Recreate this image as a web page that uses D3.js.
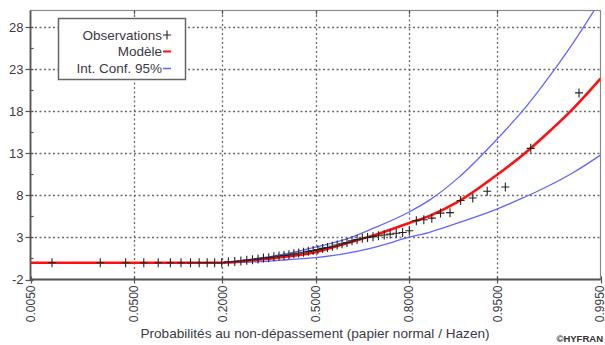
<!DOCTYPE html>
<html><head><meta charset="utf-8">
<script src="https://cdn.jsdelivr.net/npm/d3@7"></script>
<style>body{margin:0;background:#fff;} svg{display:block;font-family:Arial,"Liberation Sans",sans-serif;}</style>
</head><body><svg id="c" width="605" height="345"></svg>
<script>
// ---- data ----
const xTicks = [0.005, 0.05, 0.2, 0.5, 0.8, 0.95, 0.995];
const xTickLabels = ["0.0050", "0.0500", "0.2000", "0.5000", "0.8000", "0.9500", "0.9950"];
const yTicks = [-2, 3, 8, 13, 18, 23, 28];
const yMinorTicks = [0.5, 5.5, 10.5, 15.5, 20.5, 25.5];
// observations sorted, plotted at Hazen positions (i-0.5)/n
const observations = [
  0, 0, 0, 0, 0, 0, 0, 0, 0, 0, 0, 0,
  0.1, 0.15, 0.2, 0.3, 0.35, 0.45, 0.55, 0.6, 0.7, 0.8, 0.85, 0.95, 1.05, 1.15, 1.25, 1.35, 1.45,
  1.55, 1.7, 1.8, 1.95, 2.1, 2.25, 2.4, 2.6, 2.75, 2.9, 3.0, 3.1, 3.2, 3.3, 3.4, 3.5, 3.6, 3.8,
  5.0, 5.1, 5.3, 5.9, 5.95, 7.4, 7.7, 8.5, 9.0, 13.6, 20.2
];
const modelProbs  = [0.005, 0.05, 0.1, 0.2, 0.3, 0.4, 0.5, 0.6, 0.7, 0.8, 0.85, 0.9, 0.95, 0.97, 0.98, 0.99, 0.995];
const modelValues = [0, 0, 0, 0, 0.35, 0.75, 1.25, 2.2, 3.25, 4.7, 5.6, 7.2, 10.5, 12.9, 14.9, 18.3, 21.9];
const ciProbs     = [0.2, 0.3, 0.4, 0.5, 0.6, 0.7, 0.8, 0.85, 0.9, 0.95, 0.97, 0.98, 0.99, 0.995];
const upperValues = [0, 0.5, 1.1, 1.85, 2.7, 4.1, 6.0, 7.5, 10.0, 14.75, 18.2, 21.1, 26.1, 31.2];
const lowerValues = [0, 0.1, 0.35, 0.6, 1.05, 1.8, 3.0, 3.65, 4.7, 6.4, 7.75, 8.8, 10.7, 12.8];
const legendItems = ["Observations", "Modèle", "Int. Conf. 95%"];
const xTitle = "Probabilités au non-dépassement (papier normal / Hazen)";

// inverse standard normal CDF (Acklam)
function probit(p) {
  const a = [-3.969683028665376e+01, 2.209460984245205e+02, -2.759285104469687e+02, 1.383577518672690e+02, -3.066479806614716e+01, 2.506628277459239e+00];
  const b = [-5.447609879822406e+01, 1.615858368580409e+02, -1.556989798598866e+02, 6.680131188771972e+01, -1.328068155288572e+01];
  const c = [-7.784894002430293e-03, -3.223964580411365e-01, -2.400758277161838e+00, -2.549732539343734e+00, 4.374664141464968e+00, 2.938163982698783e+00];
  const d = [7.784695709041462e-03, 3.224671290700398e-01, 2.445134137142996e+00, 3.754408661907416e+00];
  const pl = 0.02425, ph = 1 - pl;
  let q, r;
  if (p < pl) { q = Math.sqrt(-2 * Math.log(p)); return (((((c[0]*q+c[1])*q+c[2])*q+c[3])*q+c[4])*q+c[5]) / ((((d[0]*q+d[1])*q+d[2])*q+d[3])*q+1); }
  if (p <= ph) { q = p - 0.5; r = q*q; return (((((a[0]*r+a[1])*r+a[2])*r+a[3])*r+a[4])*r+a[5])*q / (((((b[0]*r+b[1])*r+b[2])*r+b[3])*r+b[4])*r+1); }
  q = Math.sqrt(-2 * Math.log(1 - p)); return -(((((c[0]*q+c[1])*q+c[2])*q+c[3])*q+c[4])*q+c[5]) / ((((d[0]*q+d[1])*q+d[2])*q+d[3])*q+1);
}

const svg = d3.select("#c");
const L = 30.5, R = 600.5, T = 10.5, B = 279.5;
const x = d3.scaleLinear().domain([probit(0.005), probit(0.995)]).range([L, R]);
const y = d3.scaleLinear().domain([-2, 30]).range([B, T]);
const px = p => x(probit(p));
const textCol = "#3a3a46";

svg.append("defs").append("clipPath").attr("id", "clip")
  .append("rect").attr("x", L).attr("y", T).attr("width", R - L).attr("height", B - T);

// grid
const grid = svg.append("g").attr("stroke", "#6a6a6a").attr("stroke-width", 1.3).attr("stroke-dasharray", "2,2.5");
grid.selectAll("line.h").data(yTicks.filter(v => v > -2)).join("line")
  .attr("x1", L).attr("x2", R).attr("y1", d => Math.round(y(d)) + 0.5).attr("y2", d => Math.round(y(d)) + 0.5);
grid.selectAll("line.v").data(xTicks.slice(1, -1)).join("line")
  .attr("y1", T).attr("y2", B).attr("x1", d => Math.round(px(d)) + 0.5).attr("x2", d => Math.round(px(d)) + 0.5);

// frame
svg.append("rect").attr("x", L).attr("y", T).attr("width", R - L).attr("height", B - T)
  .attr("fill", "none").attr("stroke", "#8a8a8a").attr("stroke-width", 1.2);
svg.append("path").attr("d", `M${L},${T}V${B}H${R}`).attr("fill", "none").attr("stroke", "#555").attr("stroke-width", 1.8);

// y ticks
const yAx = svg.append("g").attr("stroke", "#555").attr("stroke-width", 1.2);
yAx.selectAll("line.M").data(yTicks).join("line")
  .attr("x1", L - 5).attr("x2", L + 3).attr("y1", d => Math.round(y(d)) + 0.5).attr("y2", d => Math.round(y(d)) + 0.5);
yAx.selectAll("line.m").data(yMinorTicks).join("line").attr("class", "m")
  .attr("x1", L).attr("x2", L + 3).attr("y1", d => Math.round(y(d)) + 0.5).attr("y2", d => Math.round(y(d)) + 0.5);
// x ticks (bottom + top)
const xAx = svg.append("g").attr("stroke", "#555").attr("stroke-width", 1.2);
xAx.selectAll("line.b").data(xTicks).join("line")
  .attr("x1", d => Math.round(px(d)) + 0.5).attr("x2", d => Math.round(px(d)) + 0.5).attr("y1", B - 3).attr("y2", B + 4);
xAx.selectAll("line.t").data(xTicks.slice(1, -1)).join("line").attr("class", "t")
  .attr("x1", d => Math.round(px(d)) + 0.5).attr("x2", d => Math.round(px(d)) + 0.5).attr("y1", T).attr("y2", T + 4);

// y labels
svg.append("g").selectAll("text").data(yTicks).join("text")
  .attr("x", L - 7).attr("y", d => y(d)).attr("dy", "0.36em").attr("text-anchor", "end")
  .attr("font-size", 13).attr("fill", textCol).text(d => d);
// x labels (last one kept inside the window)
svg.append("g").selectAll("text").data(xTicks).join("text")
  .attr("transform", d => `translate(${Math.min(px(d) + 4.5, 603.5)},${B + 6}) rotate(-90)`)
  .attr("text-anchor", "end").attr("font-size", 12).attr("fill", textCol)
  .text((d, i) => xTickLabels[i]);
svg.append("text").attr("x", 315).attr("y", 338).attr("text-anchor", "middle")
  .attr("font-size", 13.6).attr("fill", textCol).text(xTitle);
svg.append("text").attr("x", 603).attr("y", 342).attr("text-anchor", "end")
  .attr("font-size", 9.5).attr("font-weight", "bold").attr("fill", "#333").text("©HYFRAN");

// series
const plot = svg.append("g").attr("clip-path", "url(#clip)");
const line = d3.line().x(d => px(d[0])).y(d => y(d[1])).curve(d3.curveMonotoneX);
plot.append("path").attr("d", line(ciProbs.map((p, i) => [p, upperValues[i]])))
  .attr("fill", "none").attr("stroke", "#6464ff").attr("stroke-width", 1.3);
plot.append("path").attr("d", line(ciProbs.map((p, i) => [p, lowerValues[i]])))
  .attr("fill", "none").attr("stroke", "#6464ff").attr("stroke-width", 1.3);
plot.append("path").attr("d", line(modelProbs.map((p, i) => [p, modelValues[i]])))
  .attr("fill", "none").attr("stroke", "#ff1010").attr("stroke-width", 2.6);
const n = observations.length;
plot.append("g").attr("stroke", "#222").attr("stroke-width", 1.1).selectAll("path")
  .data(observations).join("path")
  .attr("d", (v, i) => { const cx = px((i + 0.5) / n), cy = y(v); return `M${cx - 4},${cy}H${cx + 4}M${cx},${cy - 4.5}V${cy + 4.5}`; });

// legend
const lg = svg.append("g");
lg.append("rect").attr("x", 58.5).attr("y", 18.5).attr("width", 127).attr("height", 61)
  .attr("fill", "#fff").attr("stroke", "#666").attr("stroke-width", 1.5);
const rowsY = [39.5, 56, 73];
lg.selectAll("text").data(legendItems).join("text")
  .attr("x", 162).attr("y", (d, i) => rowsY[i]).attr("text-anchor", "end")
  .attr("font-size", 13.5).attr("fill", textCol).text(d => d);
lg.append("path").attr("d", `M163,${rowsY[0] - 4.5}H171M167,${rowsY[0] - 9}V${rowsY[0]}`).attr("stroke", "#222").attr("stroke-width", 1.1);
lg.append("line").attr("x1", 163).attr("x2", 171).attr("y1", rowsY[1] - 4.5).attr("y2", rowsY[1] - 4.5).attr("stroke", "#ff1010").attr("stroke-width", 2);
lg.append("line").attr("x1", 163).attr("x2", 171).attr("y1", rowsY[2] - 4.5).attr("y2", rowsY[2] - 4.5).attr("stroke", "#6464ff").attr("stroke-width", 1.5);
</script></body></html>
